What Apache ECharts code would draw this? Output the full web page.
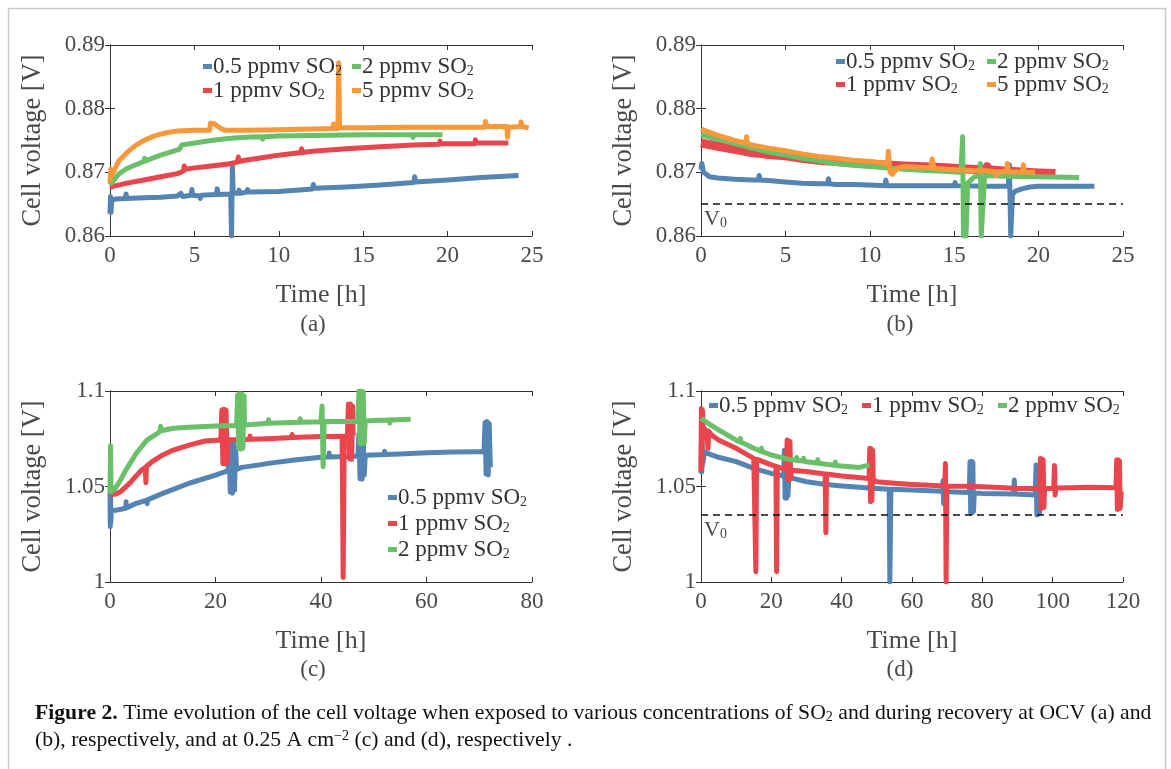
<!DOCTYPE html>
<html>
<head>
<meta charset="utf-8">
<title>Cell voltage under SO2 exposure and recovery</title>
<script src="https://cdn.jsdelivr.net/npm/echarts/dist/echarts.min.js"></script>
<style>
  html, body { margin: 0; padding: 0; background: #fff; }
  #chart { width: 1171px; height: 769px; }
</style>
</head>
<body>
<div id="chart"></div>
<script>
// ---- Panel (a): exposure at OCV, time [h] vs cell voltage [V] ----
const aBlue = [[0,0.8635],[0.03,0.8662],[0.06,0.8637],[0.1,0.8656],[0.3,0.8658],[0.9,0.8659],[0.95,0.8666],[1.0,0.8659],[2,0.8660],[3,0.8661],[4,0.8663],[4.2,0.8667],[4.3,0.8662],[4.8,0.8664],[4.85,0.8673],[4.9,0.8664],[5.3,0.8663],[5.35,0.8659],[5.4,0.8664],[6.3,0.8665],[6.35,0.8674],[6.4,0.8665],[7.15,0.8666],[7.2,0.8600],[7.25,0.8710],[7.3,0.8667],[7.6,0.8667],[7.65,0.8672],[7.7,0.8667],[8.1,0.8669],[8.15,0.8673],[8.2,0.8669],[10,0.8670],[11,0.8672],[12,0.8674],[12.05,0.8681],[12.1,0.8675],[14,0.8677],[16,0.8680],[18,0.8684],[18.05,0.8693],[18.1,0.8685],[20,0.8688],[22,0.8692],[24.2,0.8695]];
const aRed = [[0,0.8677],[0.5,0.8680],[1,0.8683],[2,0.8688],[3,0.8693],[4,0.8698],[4.35,0.8702],[4.4,0.8710],[4.45,0.8705],[5,0.8707],[6,0.8710],[7,0.8713],[7.55,0.8716],[7.6,0.8724],[7.65,0.8717],[8,0.8719],[9,0.8723],[10,0.8727],[11.3,0.8731],[11.35,0.8737],[11.4,0.8731],[12,0.8733],[14,0.8737],[16,0.8740],[18,0.8743],[19.5,0.8744],[19.55,0.8749],[19.6,0.8745],[21.6,0.8745],[21.65,0.8751],[21.7,0.8746],[23.6,0.8746]];
const aGreen = [[0,0.8680],[0.5,0.8697],[1,0.8706],[2,0.8717],[2.05,0.8722],[2.1,0.8718],[3,0.8727],[4.1,0.8736],[4.25,0.8743],[5,0.8746],[6,0.8750],[7,0.8753],[8,0.8755],[9,0.8756],[9.05,0.8752],[9.1,0.8756],[10,0.8757],[12,0.8758],[15,0.8759],[17.9,0.8759],[17.95,0.8755],[18,0.8759],[19.7,0.8759]];
const aOrange = [[0,0.8683],[0.05,0.8705],[0.1,0.8695],[0.5,0.8717],[1,0.8731],[1.5,0.8742],[2,0.8750],[2.5,0.8756],[3,0.8760],[3.5,0.8763],[4,0.8765],[5,0.8766],[5.9,0.8766],[5.95,0.8777],[6.2,0.8776],[6.5,0.8770],[6.8,0.8766],[8,0.8766],[10,0.8767],[12,0.8768],[13.2,0.8769],[13.25,0.8776],[13.3,0.8769],[13.5,0.8769],[13.55,0.8872],[13.6,0.8770],[15,0.8770],[18,0.8771],[20,0.8771],[22.2,0.8771],[22.25,0.8780],[22.3,0.8772],[23.5,0.8772],[23.55,0.8755],[23.6,0.8771],[24.3,0.8772],[24.35,0.8779],[24.4,0.8772],[24.8,0.8770]];

// ---- Panel (b): recovery at OCV ----
const bBlue = [[0,0.8704],[0.05,0.8714],[0.15,0.8700],[0.5,0.8693],[1,0.8691],[2,0.8689],[3,0.8688],[3.4,0.8688],[3.45,0.8695],[3.5,0.8688],[4,0.8687],[5,0.8685],[6,0.8683],[7,0.8682],[7.5,0.8682],[7.55,0.8690],[7.6,0.8682],[8,0.8681],[9,0.8681],[10,0.8680],[10.9,0.8679],[10.95,0.8688],[11,0.8679],[12,0.8679],[14,0.8679],[15,0.8679],[15.05,0.8684],[15.1,0.8679],[17,0.8678],[18.2,0.8678],[18.27,0.8712],[18.35,0.8600],[18.45,0.8665],[18.6,0.8670],[19,0.8674],[19.5,0.8677],[20,0.8678],[22,0.8678],[23.3,0.8678]];
const bRed = [[0,0.8746],[1,0.8741],[2,0.8736],[3,0.8731],[3.4,0.8730],[3.45,0.8735],[3.5,0.8730],[4,0.8728],[5,0.8726],[6,0.8722],[7,0.8719],[8,0.8717],[9,0.8715],[10,0.8713],[12,0.8710],[14,0.8708],[16,0.8705],[16.9,0.8704],[16.95,0.8709],[17,0.8704],[18,0.8702],[20,0.8699],[21,0.8698]];
const bGreen = [[0,0.8759],[1,0.8752],[2,0.8745],[3,0.8738],[4,0.8732],[5,0.8727],[6,0.8722],[7,0.8718],[8,0.8714],[9,0.8711],[10,0.8709],[12,0.8705],[14,0.8702],[15.4,0.8700],[15.5,0.8756],[15.55,0.8600],[15.7,0.8600],[15.8,0.8683],[16.2,0.8693],[16.5,0.8694],[16.55,0.8714],[16.6,0.8600],[16.7,0.8600],[16.8,0.8693],[17,0.8695],[18,0.8694],[20,0.8693],[22.4,0.8692]];
const bOrange = [[0,0.8768],[1,0.8758],[2,0.8750],[2.65,0.8746],[2.7,0.8756],[2.75,0.8745],[3,0.8743],[4,0.8738],[5,0.8734],[6,0.8729],[7,0.8725],[8,0.8722],[9,0.8719],[10,0.8717],[11.05,0.8714],[11.1,0.8733],[11.2,0.8700],[11.35,0.8697],[11.6,0.8706],[12,0.8709],[13,0.8708],[13.6,0.8707],[13.7,0.8721],[13.8,0.8706],[15,0.8704],[16,0.8703],[17,0.8702],[17.4,0.8701],[17.5,0.8695],[17.6,0.8701],[18.1,0.8701],[18.15,0.8714],[18.2,0.8701],[19.05,0.8700],[19.1,0.8712],[19.15,0.8700],[19.8,0.8700]];
const bV0 = 0.865;

// ---- Panel (c): exposure at 0.25 A cm-2 ----
const cBlue = [[0,1.0470],[0.05,1.0290],[0.1,1.0440],[0.15,1.0310],[0.25,1.0377],[1,1.0375],[3,1.0386],[3.05,1.0420],[3.1,1.0388],[5,1.0412],[7,1.0429],[7.05,1.0410],[7.1,1.0430],[10,1.0464],[12,1.0485],[15,1.0517],[20,1.0560],[22.4,1.0583],[22.6,1.0700],[22.8,1.0470],[23,1.0720],[23.2,1.0465],[23.4,1.0730],[23.6,1.0480],[23.8,1.0700],[24,1.0590],[25,1.0600],[28,1.0612],[30,1.0621],[35,1.0639],[40,1.0653],[41.5,1.0655],[41.55,1.0675],[41.6,1.0655],[45,1.0657],[47,1.0660],[47.2,1.0778],[47.4,1.0540],[47.6,1.0775],[47.8,1.0538],[48,1.0770],[48.2,1.0560],[48.4,1.0664],[50,1.0665],[52,1.0667],[52.05,1.0685],[52.1,1.0667],[55,1.0670],[60,1.0677],[65,1.0680],[70,1.0682],[70.9,1.0682],[71.1,1.0835],[71.3,1.0565],[71.5,1.0840],[71.7,1.0560],[71.9,1.0830],[72.1,1.0600]];
const cRed = [[0,1.0455],[1,1.0460],[2,1.0473],[3,1.0498],[4,1.0525],[5,1.0557],[6,1.0586],[6.7,1.0600],[6.8,1.0520],[6.9,1.0605],[8,1.0630],[10,1.0665],[12,1.0691],[15,1.0717],[18,1.0738],[21,1.0743],[21.2,1.0900],[21.4,1.0620],[21.6,1.0905],[21.8,1.0618],[22,1.0900],[22.2,1.0625],[22.4,1.0745],[25,1.0745],[26.5,1.0747],[26.55,1.0765],[26.6,1.0747],[30,1.0750],[34.5,1.0756],[34.55,1.0772],[34.6,1.0756],[40,1.0762],[44,1.0763],[44.2,1.0024],[44.4,1.0763],[45,1.0764],[45.2,1.0930],[45.4,1.0645],[45.6,1.0932],[45.8,1.0642],[46,1.0920],[46.1,1.0765]];
const cGreen = [[0,1.0464],[0.1,1.0714],[0.2,1.0470],[1,1.0490],[2,1.0534],[3,1.0586],[5,1.0674],[7,1.0743],[9,1.0778],[9.5,1.0790],[9.6,1.0815],[9.7,1.0792],[10,1.0796],[12,1.0805],[15,1.0810],[20,1.0817],[24,1.0820],[24.2,1.0980],[24.4,1.0700],[24.6,1.0985],[24.8,1.0695],[25,1.0984],[25.2,1.0700],[25.4,1.0975],[25.5,1.0822],[30,1.0831],[30.05,1.0850],[30.1,1.0831],[36,1.0836],[36.05,1.0855],[36.1,1.0836],[40,1.0839],[40.2,1.0921],[40.4,1.0604],[40.6,1.0840],[45,1.0840],[47,1.0842],[47.2,1.1000],[47.4,1.0725],[47.6,1.1000],[47.8,1.0722],[48,1.0995],[48.2,1.0730],[48.4,1.0843],[50,1.0845],[53,1.0848],[53.05,1.0832],[53.1,1.0848],[57,1.0852]];

// ---- Panel (d): recovery at 0.25 A cm-2 ----
const dBlue = [[0,1.0570],[0.1,1.0726],[0.2,1.0575],[0.35,1.0720],[0.5,1.0620],[1,1.0682],[3,1.0665],[5,1.0653],[10,1.0630],[15,1.0595],[20,1.0569],[23.5,1.0555],[23.7,1.0690],[23.9,1.0440],[24.1,1.0688],[24.3,1.0438],[24.5,1.0680],[24.7,1.0450],[25,1.0548],[30,1.0525],[35,1.0512],[40,1.0503],[45,1.0496],[50,1.0490],[53.5,1.0486],[53.7,1.0000],[54,1.0486],[60,1.0482],[65,1.0478],[68.6,1.0475],[68.8,1.0530],[69,1.0410],[69.2,1.0475],[70,1.0473],[76.3,1.0468],[76.5,1.0630],[76.7,1.0360],[76.9,1.0632],[77.1,1.0362],[77.3,1.0628],[77.5,1.0370],[77.7,1.0466],[80,1.0464],[85,1.0462],[88.9,1.0461],[89.1,1.0534],[89.3,1.0461],[95,1.0455],[95.3,1.0613],[95.5,1.0351],[95.7,1.0610],[95.9,1.0355],[96.1,1.0605],[96.3,1.0360],[96.5,1.0456]];
const dRed = [[0,1.0578],[0.1,1.0909],[0.25,1.0600],[0.4,1.0900],[0.6,1.0813],[1.5,1.0790],[2,1.0700],[2.2,1.0790],[3,1.0770],[5,1.0743],[10,1.0700],[15,1.0647],[15.4,1.0645],[15.6,1.0054],[15.8,1.0643],[20,1.0613],[21.3,1.0605],[21.5,1.0054],[21.7,1.0603],[24.3,1.0590],[24.5,1.0743],[24.7,1.0535],[24.9,1.0740],[25.1,1.0534],[25.3,1.0735],[25.5,1.0540],[25.7,1.0585],[30,1.0578],[35.3,1.0565],[35.5,1.0258],[35.7,1.0565],[40,1.0555],[47,1.0543],[47.8,1.0542],[48,1.0700],[48.2,1.0420],[48.4,1.0698],[48.6,1.0425],[48.8,1.0690],[49,1.0535],[50,1.0525],[55,1.0517],[60,1.0511],[65,1.0506],[69.3,1.0503],[69.5,1.0620],[69.7,1.0000],[69.9,1.0503],[75,1.0501],[80,1.0499],[85,1.0495],[90,1.0490],[96.3,1.0490],[96.5,1.0647],[96.7,1.0386],[96.9,1.0645],[97.1,1.0388],[97.3,1.0640],[97.5,1.0390],[97.7,1.0490],[100.3,1.0490],[100.5,1.0610],[100.7,1.0455],[100.9,1.0492],[105,1.0494],[110,1.0496],[115,1.0495],[118,1.0494],[118.2,1.0639],[118.4,1.0380],[118.6,1.0640],[118.8,1.0382],[119,1.0635],[119.2,1.0385],[119.5,1.0473]];
const dGreen = [[0,1.0857],[2,1.0831],[5,1.0796],[8,1.0765],[10,1.0743],[11,1.0735],[11.2,1.0752],[11.4,1.0733],[15,1.0700],[17,1.0685],[17.2,1.0700],[17.4,1.0683],[20,1.0665],[25,1.0642],[27,1.0637],[27.2,1.0652],[27.4,1.0636],[29,1.0633],[29.2,1.0648],[29.4,1.0632],[30,1.0630],[33,1.0623],[33.2,1.0640],[33.4,1.0622],[35,1.0618],[38,1.0611],[38.2,1.0628],[38.4,1.0610],[40,1.0607],[45,1.0600],[48,1.0613]];
const dV0 = 1.035;

// ---- Labels ----
const names = ['0.5 ppmv SO2', '1 ppmv SO2', '2 ppmv SO2', '5 ppmv SO2'];
const colors = ['#5384b3', '#e8454c', '#6abf69', '#f7993a'];
const yTicksTop = [0.86, 0.87, 0.88, 0.89];
const yTicksBottom = [1, 1.05, 1.1];
const xLabel = 'Time [h]';
const yLabel = 'Cell voltage [V]';
const panelTags = ['(a)', '(b)', '(c)', '(d)'];

const FONT = 'Liberation Serif';
const TXT = '#4a4a4a';
const AX = '#333';

const grids = [
  { left: 110, top: 45, width: 422, height: 191 },
  { left: 701, top: 45, width: 422, height: 191 },
  { left: 110, top: 391, width: 422, height: 191 },
  { left: 701, top: 391, width: 422, height: 191 }
];

const xRanges = [[0, 25, 5], [0, 25, 5], [0, 80, 20], [0, 120, 20]];
const yRanges = [
  [yTicksTop[0], yTicksTop[yTicksTop.length - 1], 0.01],
  [yTicksTop[0], yTicksTop[yTicksTop.length - 1], 0.01],
  [yTicksBottom[0], yTicksBottom[yTicksBottom.length - 1], 0.05],
  [yTicksBottom[0], yTicksBottom[yTicksBottom.length - 1], 0.05]
];

const fmtY = v => String(parseFloat(v.toFixed(2)));

const xAxes = [], yAxes = [];
grids.forEach((g, i) => {
  const [x0, x1, xi] = xRanges[i];
  const [y0, y1, yi] = yRanges[i];
  xAxes.push({
    type: 'value', gridIndex: i, min: x0, max: x1, interval: xi, position: 'bottom',
    name: xLabel, nameLocation: 'middle', nameGap: 46,
    nameTextStyle: { fontFamily: FONT, fontSize: 26, color: TXT },
    axisLine: { show: true, lineStyle: { color: AX, width: 1 } },
    axisTick: { show: true, inside: true, length: 5, lineStyle: { color: AX } },
    axisLabel: { fontFamily: FONT, fontSize: 23, color: TXT, margin: 8 },
    splitLine: { show: false }
  });
  xAxes.push({
    type: 'value', gridIndex: i, min: x0, max: x1, interval: xi, position: 'top',
    axisLine: { show: true, lineStyle: { color: AX, width: 1 } },
    axisTick: { show: true, inside: true, length: 5, lineStyle: { color: AX } },
    axisLabel: { show: false }, splitLine: { show: false }
  });
  yAxes.push({
    type: 'value', gridIndex: i, min: y0, max: y1, interval: yi, position: 'left',
    name: yLabel, nameLocation: 'middle', nameGap: 63, nameRotate: 90,
    nameTextStyle: { fontFamily: FONT, fontSize: 26.5, color: TXT },
    axisLine: { show: true, lineStyle: { color: AX, width: 1 } },
    axisTick: { show: true, inside: true, length: 5, lineStyle: { color: AX } },
    axisLabel: { fontFamily: FONT, fontSize: 23, color: TXT, margin: 5, formatter: fmtY },
    splitLine: { show: false }
  });
  yAxes.push({
    type: 'value', gridIndex: i, min: y0, max: y1, interval: yi, position: 'right',
    axisLine: { show: true, lineStyle: { color: AX, width: 1 } },
    axisTick: { show: true, inside: true, length: 5, lineStyle: { color: AX } },
    axisLabel: { show: false }, splitLine: { show: false }
  });
});

function line(panel, k, data, width, extra) {
  return Object.assign({
    type: 'line', name: names[k], xAxisIndex: panel * 2, yAxisIndex: panel * 2,
    data: data, showSymbol: false, symbol: 'none', clip: true, animation: false,
    color: colors[k], lineStyle: { color: colors[k], width: width || 5, join: 'round' }
  }, extra || {});
}

function v0Line(value) {
  return {
    silent: true, symbol: ['none', 'none'], animation: false, precision: 4,
    lineStyle: { color: '#111', type: [7, 5], width: 1.5 },
    label: {
      show: true, position: 'insideStartBottom', distance: [3, 4],
      formatter: '{v|V}{s|0}',
      rich: {
        v: { fontFamily: FONT, fontSize: 22, color: TXT, lineHeight: 22 },
        s: { fontFamily: FONT, fontSize: 14, color: TXT, lineHeight: 22, verticalAlign: 'bottom', padding: [8, 0, 0, 0] }
      }
    },
    data: [{ yAxis: value }]
  };
}

const series = [
  line(0, 0, aBlue), line(0, 1, aRed), line(0, 2, aGreen), line(0, 3, aOrange),
  line(1, 0, bBlue, 5, { markLine: v0Line(bV0) }), line(1, 1, bRed, 9), line(1, 2, bGreen), line(1, 3, bOrange),
  line(2, 0, cBlue), line(2, 1, cRed), line(2, 2, cGreen),
  line(3, 0, dBlue, 5, { markLine: v0Line(dV0) }), line(3, 1, dRed), line(3, 2, dGreen)
];

// One legend block per entry so the columns can be placed freely
const legendRich = {
  t: { fontFamily: FONT, fontSize: 23, color: '#333', lineHeight: 24 },
  s: { fontFamily: FONT, fontSize: 14, color: '#333', lineHeight: 24, verticalAlign: 'bottom', padding: [6, 0, 0, 0] }
};
function legendAt(k, left, top) {
  return {
    data: [names[k]], left: left, top: top, padding: 0, itemWidth: 9, itemHeight: 5,
    icon: 'rect', selectedMode: false,
    formatter: n => '{t|' + n.replace(' SO2', ' SO') + '}{s|2}',
    textStyle: { rich: legendRich, padding: [0, 0, 0, -4] }
  };
}
const legends = [
  legendAt(0, 203, 55), legendAt(2, 352, 55), legendAt(1, 203, 79), legendAt(3, 352, 79),
  legendAt(0, 836, 50), legendAt(2, 987, 50), legendAt(1, 836, 73), legendAt(3, 987, 73),
  legendAt(0, 388, 486), legendAt(1, 388, 512), legendAt(2, 388, 538),
  legendAt(0, 709, 394), legendAt(1, 862, 394), legendAt(2, 998, 394)
];

const tagPos = [[313, 325], [900, 325], [313, 670], [900, 670]];
const graphics = [
  { type: 'rect', silent: true, shape: { x: 8.5, y: 8.5, width: 1157, height: 790 },
    style: { fill: 'none', stroke: '#c9c9c9', lineWidth: 1.5 } }
];
panelTags.forEach((t, i) => {
  graphics.push({ type: 'text', x: tagPos[i][0], y: tagPos[i][1], silent: true,
    style: { text: t, fontFamily: FONT, fontSize: 23, fill: TXT, align: 'center', verticalAlign: 'middle' } });
});
const capRich = {
  b: { fontFamily: FONT, fontSize: 21.7, fontWeight: 'bold', fill: '#111' },
  n: { fontFamily: FONT, fontSize: 21.7, fill: '#111' },
  s: { fontFamily: FONT, fontSize: 14, fill: '#111', verticalAlign: 'bottom', padding: [8, 0, 0, 0] },
  p: { fontFamily: FONT, fontSize: 14, fill: '#111', verticalAlign: 'top', padding: [0, 0, 6, 0] }
};
graphics.push({ type: 'text', left: 35, top: 702, silent: true,
  style: { text: '{b|Figure 2.}{n| Time evolution of the cell voltage when exposed to various concentrations of SO}{s|2}{n| and during recovery at OCV (a) and}', rich: capRich } });
graphics.push({ type: 'text', left: 35, top: 729, silent: true,
  style: { text: '{n|(b), respectively, and at 0.25 A cm}{p|\u22122}{n| (c) and (d), respectively .}', rich: capRich } });

const chart = echarts.init(document.getElementById('chart'), null, { renderer: 'canvas' });
chart.setOption({
  backgroundColor: '#fff',
  animation: false,
  grid: grids,
  xAxis: xAxes,
  yAxis: yAxes,
  legend: legends,
  series: series,
  graphic: graphics
});
</script>
</body>
</html>
